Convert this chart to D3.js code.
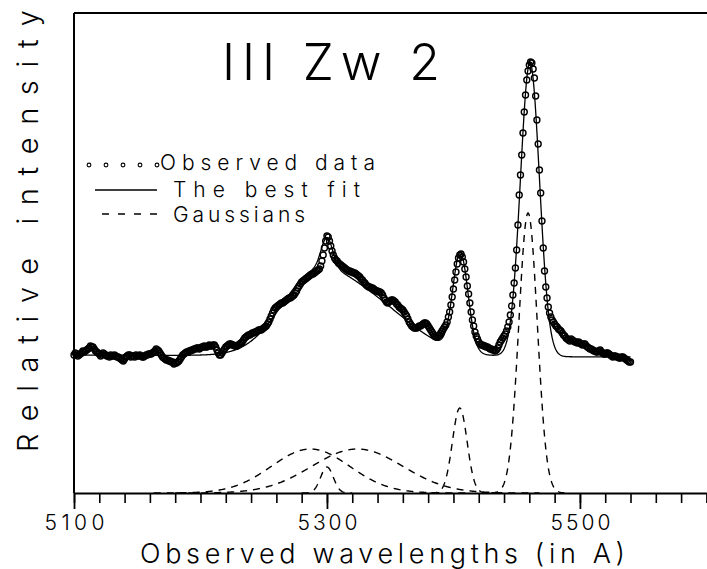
<!DOCTYPE html>
<html><head><meta charset="utf-8">
<script src="https://cdn.jsdelivr.net/npm/d3@7"></script>
<style>
html,body{margin:0;padding:0;background:#fff;}
svg{display:block;}
text{font-family:Inter,"DejaVu Sans",sans-serif;font-weight:300;fill:#000;}
</style></head><body>
<svg id="chart" width="707" height="569"></svg>
<script>
// ---------- data ----------
const wavelengthStart = 5100;   // first observed wavelength (A)
const wavelengthStep = 1;       // sampling of the observed spectrum (A)
const observed = [
138,140,139,137,138,139,140,142,141,142, 143,144,145,147,146,146,144,142,141,140,
139,137,138,140,139,138,137,137,136,138, 137,137,138,137,136,136,135,134,133,132,
134,136,137,138,138,136,137,137,136,138, 137,137,138,137,136,136,137,138,138,139,
139,139,140,141,142,144,143,142,140,138, 136,135,134,133,133,132,132,131,131,129,
130,130,131,132,134,136,138,139,140,141, 141,142,142,143,143,144,144,145,145,144,
145,146,146,147,146,146,147,148,147,147, 148,148,146,143,140,138,138,140,142,144,
146,147,148,149,149,148,148,147,147,147, 148,149,150,151,153,155,156,157,158,158,
159,160,160,161,161,162,163,163,163,164, 165,166,167,169,171,174,177,180,183,185,
186,187,188,189,190,190,191,192,193,194, 195,195,196,197,198,200,202,205,207,209,
211,212,213,214,215,216,217,218,219,219, 220,221,222,223,224,227,232,238,245,252,
257,256,252,247,242,238,235,233,232,230, 229,228,227,226,225,224,223,222,222,221,
221,220,220,219,218,217,216,214,213,211, 210,208,207,206,206,205,205,204,203,202,
202,201,201,200,198,195,193,191,190,191, 192,193,193,192,191,189,188,186,185,184,
183,181,179,177,174,171,169,167,166,165, 165,165,166,167,167,168,169,170,170,169,
167,165,163,161,159,157,156,156,157,158, 160,162,164,166,168,171,176,181,188,196,
204,213,221,229,235,238,239,236,231,224, 216,207,199,190,181,173,167,161,157,154,
151,149,148,148,147,147,146,146,145,144, 144,143,143,142,143,145,148,151,153,155,
157,159,162,166,171,178,187,198,210,225, 243,268,298,318,338,360,381,398,413,422,
428,431,430,424,415,397,373,349,323,300, 272,245,222,206,195,186,180,176,173,171,
169,167,166,164,163,162,160,158,157,155, 154,153,152,154,153,152,151,151,150,151,
150,149,148,149,149,147,146,145,144,144, 143,142,142,141,141,142,143,141,140,139,
139,140,140,139,138,137,136,137,137,136, 136,135,135,136,136,135,134,133,132,131,
131
];
// best fit = linear continuum + gaussian components
const fitContinuum = [138, 136];          // at fitRange ends
const fitRange = [5100, 5540];
const fitCenters = [5285, 5324, 5300, 5405.5, 5460.5];
const fitSigmas  = [25, 38, 4.5, 6, 7.5];
const fitHeights = [47, 60, 30, 98, 294];
// gaussian components drawn on the zero line
const gaussCenters = [5287, 5324, 5300, 5405, 5459];
const gaussSigmas  = [31, 36, 5, 5.8, 7.3];
const gaussHeights = [44, 44, 26, 85, 280];

const xDomain = [5100, 5600];
const yDomain = [0, 480];
const majorTicks = [5100, 5300, 5500];
const minorTicks = d3.range(5100, 5601, 20);
const titleText = "III Zw 2";
const xTitle = "Observed wavelengths (in A)";
const yTitle = "Relative intensity";
const legendLabels = ["Observed data", "The best fit", "Gaussians"];

// ---------- layout ----------
const svg = d3.select("#chart");
const mLeft = 74, mRight = 706.4, mTop = 13, mBottom = 493;
const x = d3.scaleLinear(xDomain, [mLeft, mRight]);
const y = d3.scaleLinear(yDomain, [mBottom, mTop]);

const obsPts = observed.map((v, i) => [wavelengthStart + i * wavelengthStep, v]);
const gauss = (l, c, s, h) => h * Math.exp(-((l - c) ** 2) / (2 * s * s));
const cont = d3.scaleLinear(fitRange, fitContinuum);

// frame
svg.append("line").attr("x1", mLeft).attr("x2", 707).attr("y1", mTop).attr("y2", mTop)
  .attr("stroke", "#000").attr("stroke-width", 2);
svg.append("line").attr("x1", mLeft).attr("x2", mLeft).attr("y1", mTop).attr("y2", mBottom)
  .attr("stroke", "#000").attr("stroke-width", 2);

// x axis (minor + major)
const minorAxis = d3.axisBottom(x).tickValues(minorTicks).tickSize(10).tickFormat("").tickSizeOuter(0);
const gMin = svg.append("g").attr("transform", `translate(0,${mBottom})`).call(minorAxis);
gMin.select(".domain").attr("stroke-width", 2);
gMin.selectAll(".tick line").attr("stroke-width", 1.6);
const majorAxis = d3.axisBottom(x).tickValues(majorTicks).tickSize(16).tickFormat(d3.format("d")).tickSizeOuter(0);
const gMaj = svg.append("g").attr("transform", `translate(0,${mBottom})`).call(majorAxis);
gMaj.select(".domain").remove();
gMaj.selectAll(".tick line").attr("stroke-width", 1.8);
gMaj.selectAll(".tick text").attr("y", 37).attr("dy", 0)
  .style("font-family", "Inter, 'DejaVu Sans', sans-serif").style("font-weight", 300)
  .attr("font-size", 21).attr("fill", "#000")
  .attr("textLength", 60).attr("lengthAdjust", "spacing");

// gaussian components (dashed)
gaussCenters.forEach((c, k) => {
  const s = gaussSigmas[k];
  const pts = d3.range(c - 4 * s, c + 4 * s + 0.01, 0.5).map(l => [l, gauss(l, c, s, gaussHeights[k])]);
  svg.append("path").datum(pts)
    .attr("d", d3.line().x(d => x(d[0])).y(d => y(d[1])))
    .attr("fill", "none").attr("stroke", "#000").attr("stroke-width", 1.4)
    .attr("stroke-dasharray", "7,6");
});

// best fit
const fitPts = d3.range(fitRange[0], fitRange[1] + 0.01, 0.5).map(l =>
  [l, cont(l) + fitCenters.reduce((a, c, k) => a + gauss(l, c, fitSigmas[k], fitHeights[k]), 0)]);
svg.append("path").datum(fitPts)
  .attr("d", d3.line().x(d => x(d[0])).y(d => y(d[1])))
  .attr("fill", "none").attr("stroke", "#000").attr("stroke-width", 1.3);

// observed points
svg.append("g").selectAll("circle").data(obsPts).join("circle")
  .attr("cx", d => x(d[0])).attr("cy", d => y(d[1])).attr("r", 3)
  .attr("fill", "none").attr("stroke", "#000").attr("stroke-width", 1.4);

// title
svg.append("text").attr("x", 222).attr("y", 80).attr("font-size", 50)
  .attr("textLength", 218).attr("lengthAdjust", "spacing")
  .text(titleText);

// legend
const lg = svg.append("g");
d3.range(5).forEach(i => lg.append("circle").attr("cx", 89 + i * 17).attr("cy", 165).attr("r", 1.9)
  .attr("fill", "none").attr("stroke", "#000").attr("stroke-width", 1.1));
lg.append("line").attr("x1", 95).attr("x2", 157).attr("y1", 190).attr("y2", 190)
  .attr("stroke", "#000").attr("stroke-width", 1.3);
lg.append("line").attr("x1", 102).attr("x2", 158).attr("y1", 214).attr("y2", 214)
  .attr("stroke", "#000").attr("stroke-width", 1.3).attr("stroke-dasharray", "7,9");
const lgX = [160, 173, 173], lgY = [170, 197, 222], lgW = [215, 187, 132];
legendLabels.forEach((t, i) => lg.append("text").attr("x", lgX[i]).attr("y", lgY[i])
  .attr("font-size", 21).attr("textLength", lgW[i]).attr("lengthAdjust", "spacing").text(t));

// axis titles
svg.append("text").attr("x", 140).attr("y", 563).attr("font-size", 27)
  .attr("textLength", 485).attr("lengthAdjust", "spacing").text(xTitle);
svg.append("text").attr("transform", "translate(38,452) rotate(-90)").attr("font-size", 29)
  .attr("textLength", 442).attr("lengthAdjust", "spacing").text(yTitle);
</script>
</body></html>
